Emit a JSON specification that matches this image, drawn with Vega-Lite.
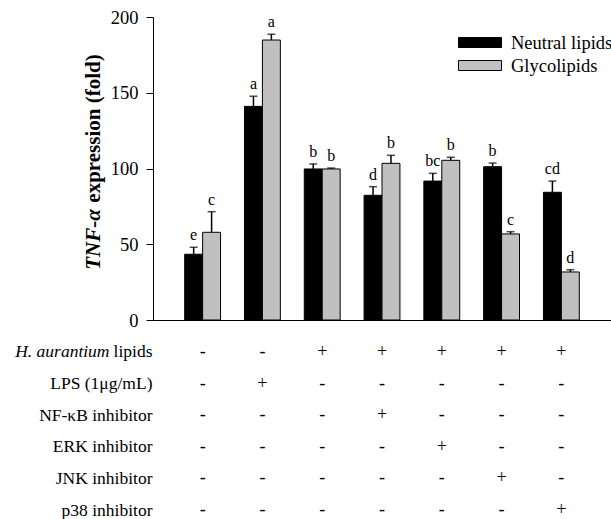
{
  "$schema": "https://vega.github.io/schema/vega-lite/v6.json",
  "padding": {"left": 14, "top": 8, "right": 0, "bottom": 0},
  "background": "white",
  "config": {
    "view": {"stroke": null},
    "font": "Liberation Serif",
    "axis": {"labelFont": "Liberation Serif", "titleFont": "Liberation Serif", "labelColor": "black", "titleColor": "black", "domainColor": "black", "tickColor": "black", "grid": false},
    "legend": {"labelFont": "Liberation Serif", "labelColor": "black"}
  },
  "datasets": {
    "bars": [
      {"g": "1", "series": "Neutral lipids", "value": 43.4, "err": 48.0, "letter": "e"},
      {"g": "1", "series": "Glycolipids", "value": 57.9, "err": 71.5, "letter": "c"},
      {"g": "2", "series": "Neutral lipids", "value": 141.0, "err": 147.7, "letter": "a"},
      {"g": "2", "series": "Glycolipids", "value": 184.8, "err": 188.6, "letter": "a"},
      {"g": "3", "series": "Neutral lipids", "value": 99.7, "err": 103.0, "letter": "b"},
      {"g": "3", "series": "Glycolipids", "value": 99.7, "err": 100.3, "letter": "b"},
      {"g": "4", "series": "Neutral lipids", "value": 82.3, "err": 88.0, "letter": "d"},
      {"g": "4", "series": "Glycolipids", "value": 103.4, "err": 108.7, "letter": "b"},
      {"g": "5", "series": "Neutral lipids", "value": 91.7, "err": 96.8, "letter": "bc"},
      {"g": "5", "series": "Glycolipids", "value": 105.4, "err": 107.4, "letter": "b"},
      {"g": "6", "series": "Neutral lipids", "value": 101.2, "err": 103.6, "letter": "b"},
      {"g": "6", "series": "Glycolipids", "value": 56.8, "err": 58.3, "letter": "c"},
      {"g": "7", "series": "Neutral lipids", "value": 84.3, "err": 91.7, "letter": "cd"},
      {"g": "7", "series": "Glycolipids", "value": 31.7, "err": 33.2, "letter": "d"}
    ],
    "table": [
      {"g": "1", "row": "H. aurantium lipids", "sign": "-"},
      {"g": "2", "row": "H. aurantium lipids", "sign": "-"},
      {"g": "3", "row": "H. aurantium lipids", "sign": "+"},
      {"g": "4", "row": "H. aurantium lipids", "sign": "+"},
      {"g": "5", "row": "H. aurantium lipids", "sign": "+"},
      {"g": "6", "row": "H. aurantium lipids", "sign": "+"},
      {"g": "7", "row": "H. aurantium lipids", "sign": "+"},
      {"g": "1", "row": "LPS (1μg/mL)", "sign": "-"},
      {"g": "2", "row": "LPS (1μg/mL)", "sign": "+"},
      {"g": "3", "row": "LPS (1μg/mL)", "sign": "-"},
      {"g": "4", "row": "LPS (1μg/mL)", "sign": "-"},
      {"g": "5", "row": "LPS (1μg/mL)", "sign": "-"},
      {"g": "6", "row": "LPS (1μg/mL)", "sign": "-"},
      {"g": "7", "row": "LPS (1μg/mL)", "sign": "-"},
      {"g": "1", "row": "NF-κB inhibitor", "sign": "-"},
      {"g": "2", "row": "NF-κB inhibitor", "sign": "-"},
      {"g": "3", "row": "NF-κB inhibitor", "sign": "-"},
      {"g": "4", "row": "NF-κB inhibitor", "sign": "+"},
      {"g": "5", "row": "NF-κB inhibitor", "sign": "-"},
      {"g": "6", "row": "NF-κB inhibitor", "sign": "-"},
      {"g": "7", "row": "NF-κB inhibitor", "sign": "-"},
      {"g": "1", "row": "ERK inhibitor", "sign": "-"},
      {"g": "2", "row": "ERK inhibitor", "sign": "-"},
      {"g": "3", "row": "ERK inhibitor", "sign": "-"},
      {"g": "4", "row": "ERK inhibitor", "sign": "-"},
      {"g": "5", "row": "ERK inhibitor", "sign": "+"},
      {"g": "6", "row": "ERK inhibitor", "sign": "-"},
      {"g": "7", "row": "ERK inhibitor", "sign": "-"},
      {"g": "1", "row": "JNK inhibitor", "sign": "-"},
      {"g": "2", "row": "JNK inhibitor", "sign": "-"},
      {"g": "3", "row": "JNK inhibitor", "sign": "-"},
      {"g": "4", "row": "JNK inhibitor", "sign": "-"},
      {"g": "5", "row": "JNK inhibitor", "sign": "-"},
      {"g": "6", "row": "JNK inhibitor", "sign": "+"},
      {"g": "7", "row": "JNK inhibitor", "sign": "-"},
      {"g": "1", "row": "p38 inhibitor", "sign": "-"},
      {"g": "2", "row": "p38 inhibitor", "sign": "-"},
      {"g": "3", "row": "p38 inhibitor", "sign": "-"},
      {"g": "4", "row": "p38 inhibitor", "sign": "-"},
      {"g": "5", "row": "p38 inhibitor", "sign": "-"},
      {"g": "6", "row": "p38 inhibitor", "sign": "-"},
      {"g": "7", "row": "p38 inhibitor", "sign": "+"}
    ]
  },
  "spacing": 12,
  "resolve": {"legend": {"color": "independent"}, "scale": {"color": "independent"}},
  "vconcat": [
    {
      "width": 458,
      "height": 303,
      "data": {"name": "bars"},
      "resolve": {"axis": {"y": "independent"}},
      "layer": [
        {
          "mark": {"type": "bar", "stroke": "black", "strokeWidth": 1},
          "encoding": {
            "x": {"field": "g", "type": "nominal", "scale": {"paddingInner": 0, "paddingOuter": 0.33}, "axis": {"labels": false, "ticks": false, "title": null, "domainWidth": 1}},
            "xOffset": {"field": "series", "type": "nominal", "sort": ["Neutral lipids", "Glycolipids"], "scale": {"paddingInner": 0, "paddingOuter": 0.667}},
            "y": {"field": "value", "type": "quantitative", "scale": {"domain": [0, 200]},
              "axis": {"orient": "left", "values": [0, 50, 100, 150, 200], "tickSize": 7, "labelFontSize": 18.5, "labelPadding": 8, "title": "expression (fold)", "titleFontSize": 21, "titleFontWeight": "bold", "titleY": 111, "titleX": -50, "titleBaseline": "bottom", "titleAngle": 270}},
            "fill": {"field": "series", "type": "nominal", "sort": ["Neutral lipids", "Glycolipids"],
              "scale": {"domain": ["Neutral lipids", "Glycolipids"], "range": ["#000000", "#c0c0c0"]},
              "legend": {"title": null, "orient": "none", "legendX": 316.5, "legendY": 15, "padding": 0, "labelFontSize": 18.5, "labelOffset": 20.5, "rowPadding": 3,
                "symbolType": "M-2.15,-0.5H2.15V0.5H-2.15Z", "symbolSize": 400, "symbolStrokeColor": "black", "symbolStrokeWidth": 1}}
          }
        },
        {
          "mark": {"type": "rule", "color": "black", "strokeWidth": 1.5},
          "encoding": {
            "x": {"field": "g", "type": "nominal"},
            "xOffset": {"field": "series", "type": "nominal", "sort": ["Neutral lipids", "Glycolipids"]},
            "y": {"field": "value", "type": "quantitative", "scale": {"domain": [0, 200]}, "axis": null},
            "y2": {"field": "err"}
          }
        },
        {
          "mark": {"type": "tick", "color": "black", "thickness": 1.5, "size": 8, "orient": "horizontal"},
          "encoding": {
            "x": {"field": "g", "type": "nominal"},
            "xOffset": {"field": "series", "type": "nominal", "sort": ["Neutral lipids", "Glycolipids"]},
            "y": {"field": "err", "type": "quantitative", "scale": {"domain": [0, 200]},
              "axis": {"orient": "left", "labels": false, "ticks": false, "domain": false, "title": "TNF-α", "titleFontSize": 21, "titleFontWeight": "bold", "titleFontStyle": "italic", "titleY": 222, "titleX": -50, "titleBaseline": "bottom", "titleAngle": 270}}
          }
        },
        {
          "mark": {"type": "text", "color": "black", "fontSize": 16, "baseline": "alphabetic", "dy": -7},
          "encoding": {
            "x": {"field": "g", "type": "nominal"},
            "xOffset": {"field": "series", "type": "nominal", "sort": ["Neutral lipids", "Glycolipids"]},
            "y": {"field": "err", "type": "quantitative", "scale": {"domain": [0, 200]}, "axis": null},
            "text": {"field": "letter"}
          }
        }
      ]
    },
    {
      "width": 458,
      "height": 174,
      "data": {"name": "table"},
      "resolve": {"axis": {"y": "independent"}},
      "layer": [
        {
          "mark": {"type": "text", "color": "black", "fontSize": 18, "baseline": "middle"},
          "encoding": {
            "x": {"field": "g", "type": "nominal", "scale": {"type": "band", "paddingInner": 0, "paddingOuter": 0.33}, "axis": null},
            "y": {"field": "row", "type": "nominal", "sort": ["H. aurantium lipids", "LPS (1μg/mL)", "NF-κB inhibitor", "ERK inhibitor", "JNK inhibitor", "p38 inhibitor"],
              "scale": {"type": "point", "padding": 0.25},
              "axis": {"orient": "left", "domain": false, "ticks": false, "title": null, "labelFontSize": 17.5, "labelPadding": 1, "labelLimit": 0,
                "labelExpr": "datum.value == 'H. aurantium lipids' ? 'lipids' : datum.value"}},
            "text": {"field": "sign"}
          }
        },
        {
          "mark": {"type": "text", "opacity": 0},
          "encoding": {
            "x": {"field": "g", "type": "nominal"},
            "y": {"field": "row", "type": "nominal", "sort": ["H. aurantium lipids", "LPS (1μg/mL)", "NF-κB inhibitor", "ERK inhibitor", "JNK inhibitor", "p38 inhibitor"],
              "axis": {"orient": "left", "domain": false, "ticks": false, "title": null, "labelFontSize": 17.5, "labelPadding": 1, "labelLimit": 0, "offset": 43, "labelFontStyle": "italic",
                "labelExpr": "datum.value == 'H. aurantium lipids' ? 'H. aurantium' : ''"}},
            "text": {"field": "sign"}
          }
        }
      ]
    }
  ]
}
